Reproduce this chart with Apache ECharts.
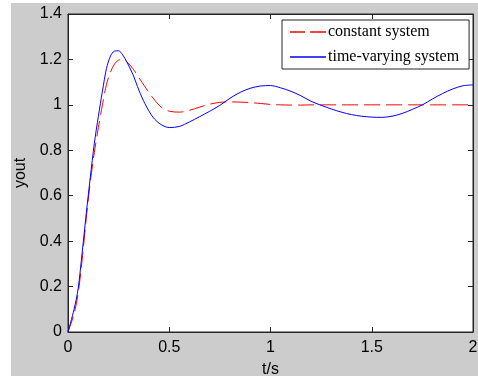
<!DOCTYPE html>
<html>
<head>
<meta charset="utf-8">
<script src="https://cdn.jsdelivr.net/npm/echarts@6/dist/echarts.min.js"></script>
<style>
html,body{margin:0;padding:0;background:#ffffff;}
#bg{position:absolute;left:11px;top:3px;width:467px;height:373px;background:#cccccc;}
#chart{position:absolute;left:0;top:0;width:478px;height:376px;}
</style>
</head>
<body>
<div id="bg"></div>
<div id="chart"></div>
<script>
var timeValues = [0,0.03,0.05,0.07,0.09,0.11,0.13,0.15,0.17,0.19,0.21,0.23,0.25,0.27,0.29,0.32,0.35,0.38,0.42,0.46,0.5,0.55,0.6,0.65,0.7,0.75,0.8,0.85,0.9,0.95,1.0,1.05,1.1,1.15,1.2,1.25,1.3,1.35,1.4,1.45,1.5,1.55,1.6,1.65,1.7,1.75,1.8,1.85,1.9,1.95,2.0];
var constantSystem = [0,0.08,0.17,0.32,0.50,0.66,0.79,0.90,1.00,1.09,1.145,1.18,1.197,1.2,1.19,1.16,1.12,1.08,1.03,0.99,0.972,0.968,0.976,0.99,1.003,1.011,1.013,1.012,1.01,1.006,1.002,1.0,0.999,0.999,1.0,1.0,1.0,1.0,1.0,1.0,1.0,1.0,1.0,1.0,1.0,1.0,1.0,1.0,1.0,1.0,1.0];
var timeVaryingSystem = [0,0.10,0.19,0.35,0.52,0.68,0.83,0.95,1.06,1.16,1.215,1.237,1.238,1.22,1.19,1.135,1.065,1.005,0.945,0.913,0.900,0.905,0.925,0.948,0.972,0.998,1.029,1.055,1.073,1.083,1.085,1.075,1.06,1.04,1.016,0.998,0.982,0.968,0.957,0.95,0.946,0.945,0.95,0.962,0.98,1.0,1.026,1.05,1.07,1.084,1.088];
var xTicks = [0,0.5,1,1.5,2];
var yTicks = [0,0.2,0.4,0.6,0.8,1,1.2,1.4];
var seriesNames = ['constant system','time-varying system'];

function pairs(xs, ys){ return xs.map(function(x,i){ return [x, ys[i]]; }); }
function fmt(v){ return String(v); }

var chart = echarts.init(document.getElementById('chart'), null, {renderer:'canvas'});
var axisLineStyle = {color:'#262626', width:1};
function axisLine(){ return {show:true, onZero:false, lineStyle:axisLineStyle}; }
function axisTick(){ return {show:true, inside:true, length:5, lineStyle:axisLineStyle}; }
chart.setOption({
  animation:false,
  backgroundColor:'transparent',
  grid:{left:68, top:14, width:405, height:318, show:true, backgroundColor:'#ffffff', borderColor:'#262626', borderWidth:1, containLabel:false, outerBoundsMode:'none'},
  legend:{
    orient:'vertical', left:282, top:20, padding:[4,10,4,8], itemGap:9,
    itemWidth:36, itemHeight:2,
    backgroundColor:'#ffffff', borderColor:'#262626', borderWidth:1,
    textStyle:{fontFamily:'Liberation Serif', fontSize:16, color:'#000000', padding:[0,0,0,-3], lineHeight:16},
    data:[
      {name:seriesNames[0], icon:'path://M0,0h15v2h-15z M20,0h16v2h-16z', itemStyle:{color:'#ff4040'}},
      {name:seriesNames[1], icon:'path://M0,0h36v2h-36z', itemStyle:{color:'#4040ff'}}
    ]
  },
  xAxis:[{
    type:'value', min:0, max:2, interval:0.5, position:'bottom',
    name:'t/s', nameLocation:'middle', nameGap:30,
    nameTextStyle:{fontFamily:'Liberation Sans', fontSize:16, color:'#000'},
    axisLine:axisLine(), axisTick:axisTick(),
    axisLabel:{fontFamily:'Liberation Sans', fontSize:16, color:'#000', margin:8, formatter:fmt},
    splitLine:{show:false}
  },{
    type:'value', min:0, max:2, interval:0.5, position:'top',
    axisLine:axisLine(), axisTick:axisTick(),
    axisLabel:{show:false}, splitLine:{show:false}
  }],
  yAxis:[{
    type:'value', min:0, max:1.4, interval:0.2, position:'left',
    name:'yout', nameLocation:'middle', nameGap:33, nameRotate:90,
    nameTextStyle:{fontFamily:'Liberation Sans', fontSize:16, color:'#000'},
    axisLine:axisLine(), axisTick:axisTick(),
    axisLabel:{fontFamily:'Liberation Sans', fontSize:16, color:'#000', margin:6, formatter:fmt},
    splitLine:{show:false}
  },{
    type:'value', min:0, max:1.4, interval:0.2, position:'right',
    axisLine:axisLine(), axisTick:axisTick(),
    axisLabel:{show:false}, splitLine:{show:false}
  }],
  series:[{
    name:seriesNames[0], type:'line', xAxisIndex:0, yAxisIndex:0,
    data:pairs(timeValues, constantSystem), smooth:0.3, showSymbol:false, symbol:'none',
    lineStyle:{color:'#ff0000', width:1, type:[16,6]}, itemStyle:{color:'#ff0000'}, z:3
  },{
    name:seriesNames[1], type:'line', xAxisIndex:0, yAxisIndex:0,
    data:pairs(timeValues, timeVaryingSystem), smooth:0.3, showSymbol:false, symbol:'none',
    lineStyle:{color:'#0000ff', width:1}, itemStyle:{color:'#0000ff'}, z:4
  }]
});
</script>
</body>
</html>
